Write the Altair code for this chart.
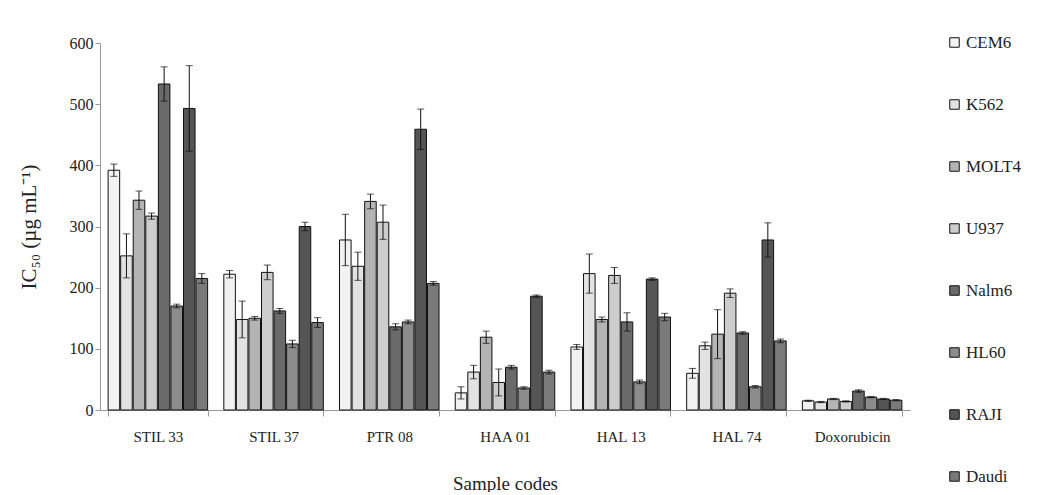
import altair as alt
import pandas as pd

groups = ["STIL 33", "STIL 37", "PTR 08", "HAA 01", "HAL 13", "HAL 74", "Doxorubicin"]
series = ["CEM6", "K562", "MOLT4", "U937", "Nalm6", "HL60", "RAJI", "Daudi"]

values = {
    "CEM6":  [392, 222, 278, 28, 103, 60, 15],
    "K562":  [252, 148, 235, 62, 223, 105, 13],
    "MOLT4": [343, 150, 341, 119, 148, 124, 18],
    "U937":  [317, 225, 307, 45, 220, 191, 14],
    "Nalm6": [533, 162, 136, 70, 144, 126, 31],
    "HL60":  [170, 108, 144, 36, 46, 38, 21],
    "RAJI":  [493, 300, 459, 186, 214, 278, 18],
    "Daudi": [215, 143, 207, 62, 152, 113, 16],
}
errors = {
    "CEM6":  [10, 6, 42, 10, 4, 8, 1],
    "K562":  [36, 30, 23, 11, 32, 6, 1],
    "MOLT4": [15, 3, 12, 10, 4, 40, 1],
    "U937":  [5, 12, 28, 22, 13, 7, 1],
    "Nalm6": [28, 4, 5, 3, 15, 2, 2],
    "HL60":  [3, 6, 3, 2, 3, 2, 1],
    "RAJI":  [70, 7, 33, 2, 2, 28, 1],
    "Daudi": [8, 8, 3, 3, 6, 3, 1],
}
fills = ["#f2f2f2", "#e2e2e2", "#b4b4b4", "#cdcdcd", "#6a6a6a", "#8c8c8c", "#555555", "#7a7a7a"]

rows = []
for s in series:
    for g, v, e in zip(groups, values[s], errors[s]):
        rows.append({"group": g, "series": s, "value": v, "lo": v - e, "hi": v + e})
df = pd.DataFrame(rows)

serif = "Liberation Serif"

x = alt.X("group:N", sort=groups, title="Sample codes",
          scale=alt.Scale(paddingInner=0.14, paddingOuter=0.07),
          axis=alt.Axis(labelAngle=0, labelFont=serif, labelFontSize=15, labelColor="#222",
                        titleFont=serif, titleFontSize=19, titleFontWeight="normal", titleColor="#222",
                        titlePadding=30, domainColor="#999", tickColor="#999", tickBand="extent",
                        tickSize=6, labelPadding=13))
xo = alt.XOffset("series:N", sort=series, scale=alt.Scale(paddingInner=0.08))

bars = alt.Chart(df).mark_bar(stroke="#111", strokeWidth=1).encode(
    x=x,
    xOffset=xo,
    y=alt.Y("value:Q", title="IC₅₀ (µg mL⁻¹)",
            scale=alt.Scale(domain=[0, 600]),
            axis=alt.Axis(values=[0, 100, 200, 300, 400, 500, 600], grid=False,
                          labelFont=serif, labelFontSize=16, labelColor="#222",
                          titleFont=serif, titleFontSize=21, titleFontWeight="normal", titleColor="#222",
                          titlePadding=30, domainColor="#999", tickColor="#999", tickSize=5)),
    fill=alt.Fill("series:N", sort=series,
                  scale=alt.Scale(domain=series, range=fills),
                  legend=alt.Legend(title=None, orient="none", legendX=846, legendY=-9,
                                    symbolType="square", symbolSize=90, symbolStrokeColor="#111",
                                    symbolStrokeWidth=1, labelFont=serif, labelFontSize=17,
                                    labelColor="#222", rowPadding=44, labelOffset=3)),
)

rule = alt.Chart(df).mark_rule(color="#111", strokeWidth=1).encode(
    x=alt.X("group:N", sort=groups), xOffset=xo,
    y="lo:Q", y2="hi:Q")
cap_hi = alt.Chart(df).mark_tick(color="#111", thickness=1, size=7, orient="horizontal").encode(
    x=alt.X("group:N", sort=groups), xOffset=xo, y="hi:Q")
cap_lo = alt.Chart(df).mark_tick(color="#111", thickness=1, size=7, orient="horizontal").encode(
    x=alt.X("group:N", sort=groups), xOffset=xo, y="lo:Q")

chart = alt.layer(bars, rule, cap_hi, cap_lo).properties(
    width=810, height=367,
    background="white",
    autosize=alt.AutoSizeParams(type="none"),
    padding={"left": 92, "top": 35, "right": 126, "bottom": 82},
).configure_view(stroke=None).configure_axis(grid=False).configure_legend(labelFont=serif)

chart.save("out.html", embed_options={"renderer": "svg", "actions": False})
